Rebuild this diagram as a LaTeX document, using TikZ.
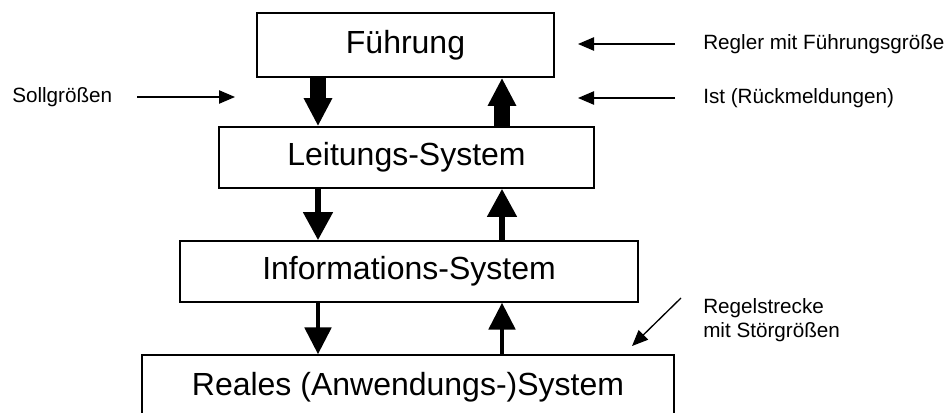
\documentclass[tikz,border=0pt]{standalone}
\usepackage{fontspec}
\setmainfont{Liberation Sans}
\usepackage{tikz}
\usetikzlibrary{arrows.meta, positioning}

\begin{document}
\begin{tikzpicture}[x=0.75pt, y=-0.75pt,
    system/.style={draw, line width=1.3pt, inner sep=0pt, font=\fontsize{24}{28}\selectfont},
    randtext/.style={inner sep=0pt, anchor=west, align=left, font=\fontsize{15.5}{18}\selectfont},
    dick/.style={line width=12pt, -{Triangle[length=21pt, width=20pt]}},
    mittel/.style={line width=4.3pt, -{Triangle[length=21pt, width=21.5pt]}},
    duenn/.style={line width=2.3pt, -{Triangle[length=20pt, width=20pt]}},
    klein/.style={line width=1pt, -{Triangle[length=12pt, width=10pt]}}]
    \useasboundingbox (0,0) rectangle (949,412);
    \clip (0,0) rectangle (949,412);

    % Systeme
    \node [system, minimum width=222.75pt, minimum height=48pt] (fuehrung) at (405.5,45) {Führung};
    \node [system, minimum width=281.25pt, minimum height=45.75pt] (leitung) at (406.5,157.5) {Leitungs-System};
    \node [system, minimum width=343.5pt, minimum height=45.75pt] (info) at (409,271.5) {Informations-System};
    \node [system, minimum width=399pt, minimum height=48pt] (reales) at (408,387) {Reales (Anwendungs-)System};

    % Spalten fuer die Pfeile
    \coordinate (links) at (318,0);
    \coordinate (rechts) at (502,0);

    % Pfeile nach unten und oben
    \draw [dick] (links |- fuehrung.south) -- (links |- leitung.north);
    \draw [dick] (rechts |- leitung.north) -- (rechts |- fuehrung.south);
    \draw [mittel] (links |- leitung.south) -- (links |- info.north);
    \draw [mittel] (rechts |- info.north) -- (rechts |- leitung.south);
    \draw [duenn] (links |- info.south) -- (links |- reales.north);
    \draw [duenn] (rechts |- reales.north) -- (rechts |- info.south);

    % Beschriftungen
    \node [randtext] (soll) at (12,97) {Sollgrößen};
    \node [randtext] (regler) at (703,44) {Regler mit Führungsgröße};
    \node [randtext] (ist) at (703,98) {Ist (Rückmeldungen)};
    \node [randtext] (strecke) at (703,320) {Regelstrecke\\mit Störgrößen};

    % kleine Pfeile
    \coordinate (soll-a) at (137,97);
    \coordinate (soll-b) at (235,97);
    \coordinate (regler-a) at (675,44);
    \coordinate (regler-b) at (578,44);
    \coordinate (ist-a) at (675,98);
    \coordinate (ist-b) at (578,98);
    \coordinate (strecke-a) at (681,298);
    \coordinate (strecke-b) at (632,346);
    \draw [klein] (soll-a) -- (soll-b);
    \draw [klein] (regler-a) -- (regler-b);
    \draw [klein] (ist-a) -- (ist-b);
    \draw [klein] (strecke-a) -- (strecke-b);
\end{tikzpicture}
\end{document}
